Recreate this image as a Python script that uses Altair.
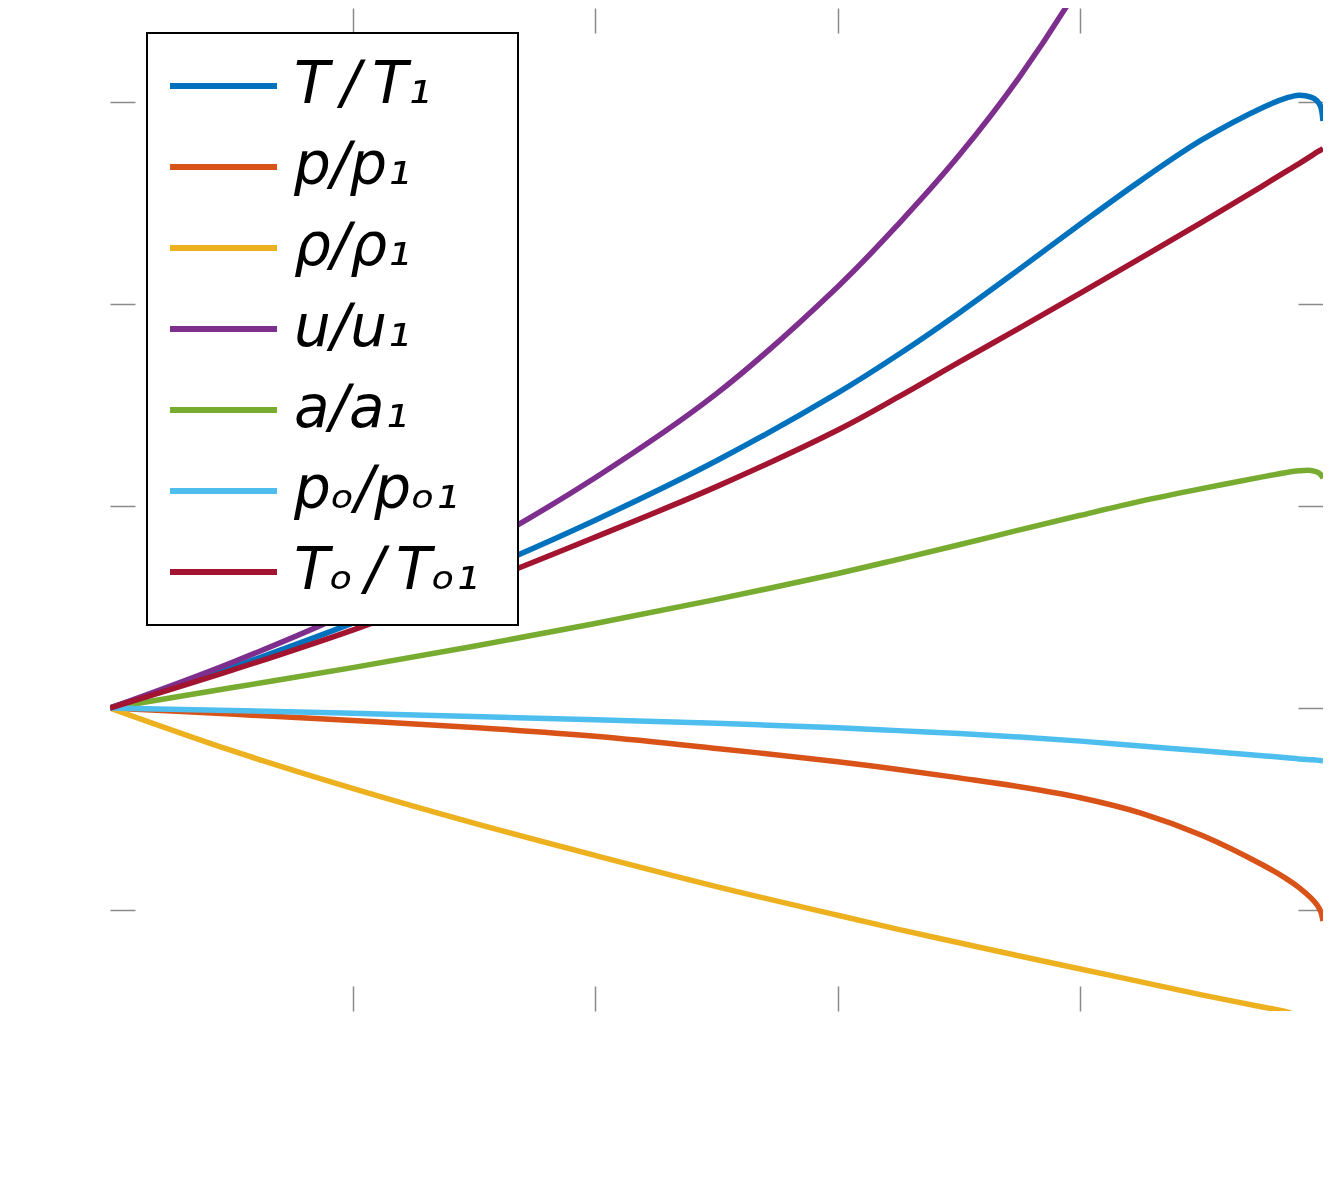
import altair as alt
import pandas as pd

# x position (normalised), shared by all series
x_vals = [0, 0.1, 0.2, 0.3, 0.4, 0.5, 0.6, 0.65, 0.7, 0.75, 0.8, 0.85, 0.9, 0.95, 0.97, 0.98, 0.99, 0.995, 0.998, 1.0]

T_T1 = [1.000, 1.100, 1.210, 1.332, 1.465, 1.612, 1.780, 1.875, 1.978, 2.087, 2.198, 2.306, 2.406, 2.486, 2.510, 2.517, 2.512, 2.503, 2.489, 2.453]
p_p1 = [1.000, 0.985, 0.969, 0.952, 0.930, 0.900, 0.867, 0.848, 0.827, 0.805, 0.778, 0.740, 0.685, 0.612, 0.577, 0.556, 0.530, 0.513, 0.497, 0.473]
rho_rho1 = [1.000, 0.895, 0.801, 0.715, 0.635, 0.558, 0.487, 0.452, 0.419, 0.386, 0.354, 0.322, 0.290, 0.260, 0.248, 0.237, 0.223, 0.212, 0.202, 0.190]
u_u1 = [1.000, 1.112, 1.240, 1.392, 1.570, 1.778, 2.043, 2.198, 2.368, 2.563, 2.793, 3.07, 3.42, 3.85, 4.03, 4.22, 4.48, 4.72, 4.95, 5.26]
a_a1 = [1.000, 1.050, 1.100, 1.153, 1.209, 1.269, 1.333, 1.368, 1.404, 1.441, 1.477, 1.512, 1.543, 1.572, 1.583, 1.587, 1.588, 1.584, 1.578, 1.569]
po_po1 = [1.000, 0.994, 0.987, 0.979, 0.971, 0.962, 0.951, 0.944, 0.937, 0.928, 0.918, 0.906, 0.894, 0.882, 0.877, 0.874, 0.872, 0.871, 0.870, 0.869]
To_To1 = [1.000, 1.093, 1.193, 1.303, 1.423, 1.548, 1.688, 1.770, 1.856, 1.941, 2.027, 2.114, 2.202, 2.292, 2.329, 2.347, 2.366, 2.376, 2.381, 2.385]

series_names = [
    "T\u2009/\u2009T\u2081",
    "p/p\u2081",
    "\u03c1/\u03c1\u2081",
    "u/u\u2081",
    "a/a\u2081",
    "p\u2092/p\u2092\u2081",
    "T\u2092\u2009/\u2009T\u2092\u2081",
]
series_values = [T_T1, p_p1, rho_rho1, u_u1, a_a1, po_po1, To_To1]
series_colors = ["#0072BD", "#D95319", "#EDB120", "#7E2F8E", "#77AC30", "#4DBEEE", "#A2142F"]

x_ticks = [0.2, 0.4, 0.6, 0.8]
y_ticks = [0.5, 1.0, 1.5, 2.0, 2.5]

rows = []
for k, (name, vals) in enumerate(zip(series_names, series_values)):
    for i, (xv, yv) in enumerate(zip(x_vals, vals)):
        rows.append({"x": xv, "y": yv, "series": name, "k": k, "i": i})
df = pd.DataFrame(rows)

xs = alt.Scale(domain=[0, 1], nice=False, zero=False)
ys = alt.Scale(domain=[0.25, 2.7327], nice=False, zero=False)

tick_style = dict(labels=False, domain=False, grid=False, ticks=True,
                  tickSize=25, offset=-25, tickColor="#8a8a8a", tickWidth=1.5, title=None)

legend = alt.Legend(
    orient="none", legendX=37, legendY=25, title=None,
    fillColor="white", strokeColor="black",
    padding=20, rowPadding=15, clipHeight=66,
    symbolType="stroke", symbolSize=11449, symbolStrokeWidth=6,
    labelFont="DejaVu Sans", labelFontStyle="italic", labelFontSize=58,
    labelColor="black", labelOffset=14, labelLimit=1000,
    labelExpr="datum.label + ' \u200b'",
)

lines = alt.Chart(df).mark_line(clip=True, strokeWidth=5.5, interpolate="catmull-rom").encode(
    x=alt.X("x:Q", scale=xs, axis=alt.Axis(orient="bottom", values=x_ticks, **tick_style)),
    y=alt.Y("y:Q", scale=ys, axis=alt.Axis(orient="left", values=y_ticks, **tick_style)),
    color=alt.Color("series:N", scale=alt.Scale(domain=series_names, range=series_colors),
                    sort=series_names, legend=legend),
    order=alt.Order("i:Q"),
)

ghost = alt.Chart(df).mark_line(clip=True, strokeOpacity=0).encode(
    x=alt.X("x:Q", scale=xs, axis=alt.Axis(orient="top", values=x_ticks, **tick_style)),
    y=alt.Y("y:Q", scale=ys, axis=alt.Axis(orient="right", values=y_ticks, **tick_style)),
    detail="series:N",
)

chart = alt.layer(ghost, lines).resolve_axis(x="independent", y="independent").properties(
    width=1213, height=1003,
    padding={"left": 102, "top": 0, "right": 0, "bottom": 100},
    autosize=alt.AutoSizeParams(type="none"),
    background="white",
).configure_view(strokeWidth=0).configure_legend(strokeWidth=2)

chart.save("out.html", embed_options={"renderer": "svg", "actions": False})
